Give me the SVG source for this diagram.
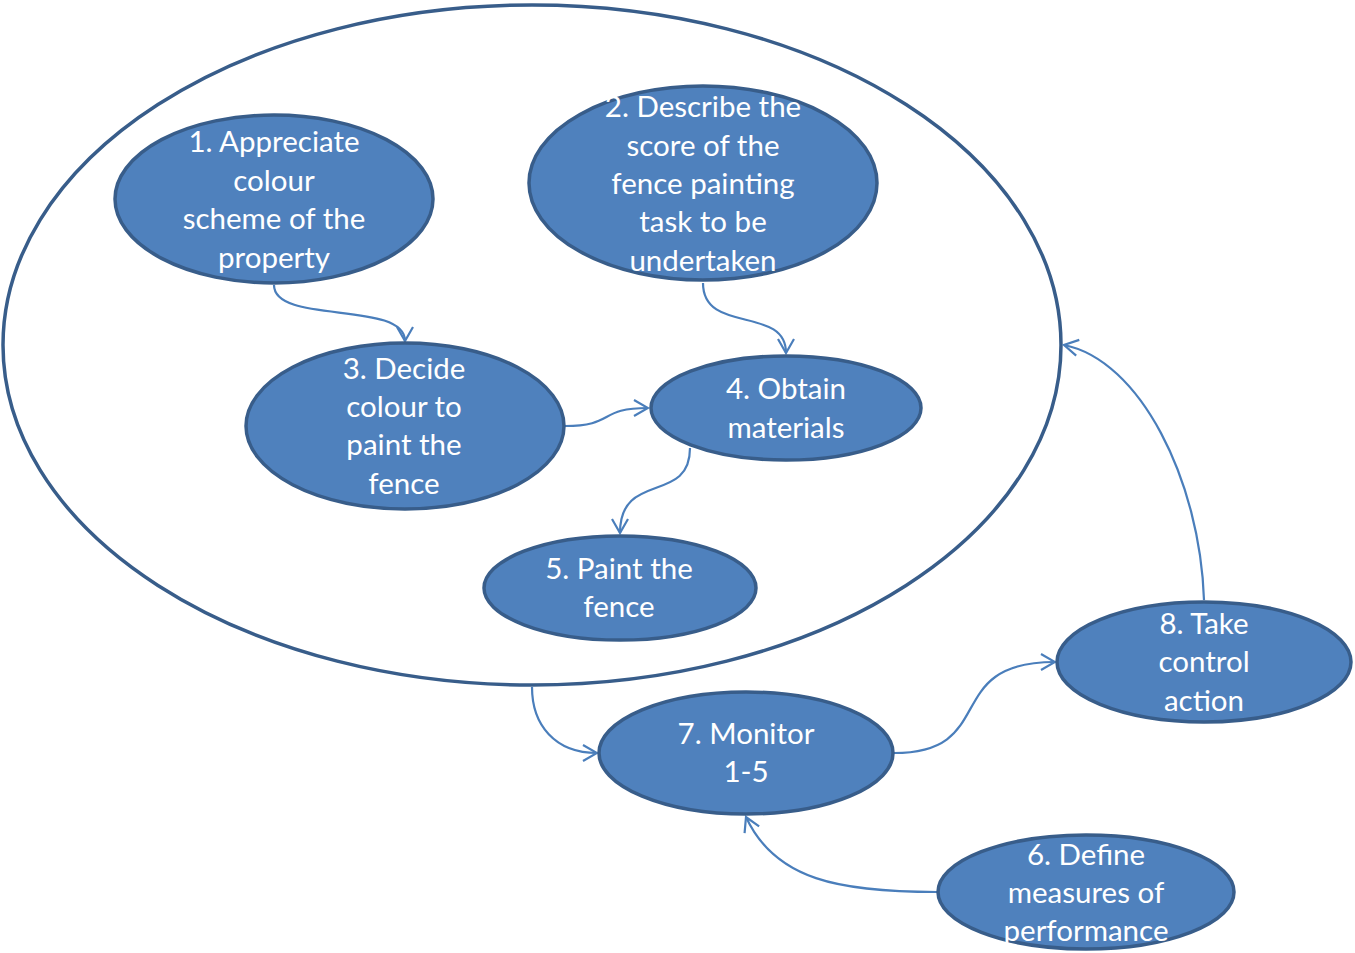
<svg xmlns="http://www.w3.org/2000/svg" width="1355" height="953" viewBox="0 0 1355 953">
<style>
.bg{fill:#ffffff}
.node{fill:#4F81BD;stroke:#385D8A;stroke-width:3.5}
.outer{fill:none;stroke:#385D8A;stroke-width:3.5}
.lbl{font-family:Lato,"Open Sans","Liberation Sans",sans-serif;font-size:29.5px;fill:#ffffff;text-anchor:middle}
.conn path{fill:none;stroke:#4A7EBB;stroke-width:2.2}
</style>
<defs>
<marker id="arr" markerUnits="userSpaceOnUse" markerWidth="20" markerHeight="20" viewBox="0 0 20 20" refX="18" refY="10" orient="auto">
<path d="M4,2 L18,10 L4,18" fill="none" stroke="#4A7EBB" stroke-width="2.2"/>
</marker>
</defs>
<rect class="bg" x="0" y="0" width="1355" height="953"/>
<g id="outer"><ellipse class="outer" cx="532" cy="345" rx="529" ry="340"/></g>
<g class="conn" id="connectors">
<path d="M274,285 C274,325 405,300 405,341" marker-end="url(#arr)"/>
<path d="M703,283 C703,335 786,305 786,353" marker-end="url(#arr)"/>
<path d="M565,426 C615,426 598,408 648,408" marker-end="url(#arr)"/>
<path d="M690,448 C690,505 620,470 620,533" marker-end="url(#arr)"/>
<path d="M532,687 C532,725 555,753 597,753" marker-end="url(#arr)"/>
<path d="M894,753 C1000,753 940,662 1055,662" marker-end="url(#arr)"/>
<path d="M1204,600 C1200,480 1140,360 1064,345" marker-end="url(#arr)"/>
<path d="M937,892 C840,892 775,880 746,817" marker-end="url(#arr)"/>
</g>
<g id="n1"><ellipse class="node" cx="274" cy="199" rx="159" ry="84"/>
<text class="lbl" x="274" y="152">1. Appreciate</text><text class="lbl" x="274" y="190.5">colour</text><text class="lbl" x="274" y="229">scheme of the</text><text class="lbl" x="274" y="267.5">property</text></g>
<g id="n2"><ellipse class="node" cx="703" cy="183" rx="174" ry="97"/>
<text class="lbl" x="703" y="117">2. Describe the</text><text class="lbl" x="703" y="156">score of the</text><text class="lbl" x="703" y="194">fence painting</text><text class="lbl" x="703" y="232">task to be</text><text class="lbl" x="703" y="271">undertaken</text></g>
<g id="n3"><ellipse class="node" cx="405" cy="426" rx="159" ry="83"/>
<text class="lbl" x="404" y="379">3. Decide</text><text class="lbl" x="404" y="417">colour to</text><text class="lbl" x="404" y="455">paint the</text><text class="lbl" x="404" y="494">fence</text></g>
<g id="n4"><ellipse class="node" cx="786" cy="408" rx="135" ry="52"/>
<text class="lbl" x="786" y="399">4. Obtain</text><text class="lbl" x="786" y="438">materials</text></g>
<g id="n5"><ellipse class="node" cx="620" cy="588" rx="136" ry="52"/>
<text class="lbl" x="619" y="579">5. Paint the</text><text class="lbl" x="619" y="617">fence</text></g>
<g id="n7"><ellipse class="node" cx="746" cy="753" rx="147" ry="61"/>
<text class="lbl" x="746" y="744">7. Monitor</text><text class="lbl" x="746" y="782">1-5</text></g>
<g id="n8"><ellipse class="node" cx="1204" cy="662" rx="147" ry="60"/>
<text class="lbl" x="1204" y="634">8. Take</text><text class="lbl" x="1204" y="672">control</text><text class="lbl" x="1204" y="711">action</text></g>
<g id="n6"><ellipse class="node" cx="1086" cy="892" rx="148" ry="57"/>
<text class="lbl" x="1086" y="865">6. Define</text><text class="lbl" x="1086" y="903">measures of</text><text class="lbl" x="1086" y="941">performance</text></g>
</svg>
